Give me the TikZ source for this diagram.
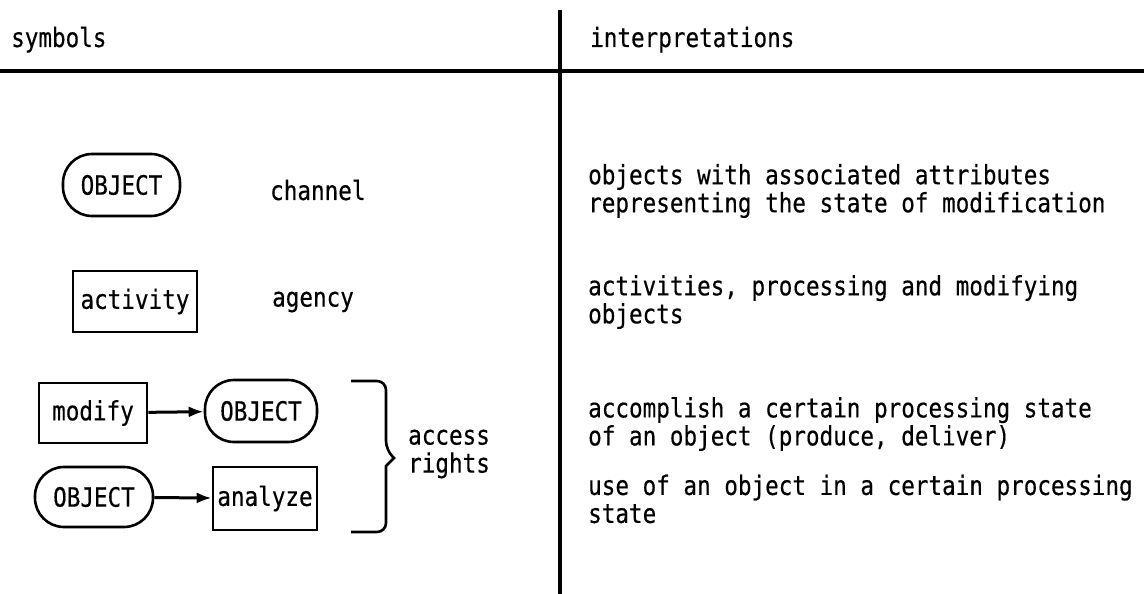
\documentclass[tikz,border=0pt]{standalone}
\usepackage{fontspec}
\setmainfont[FakeStretch=0.85,FakeBold=0.4]{DejaVu Sans Mono}
\usetikzlibrary{arrows.meta}

\tikzset{
  channel/.style={draw, line width=2.6pt, rounded corners=29pt, minimum height=62pt, inner sep=2pt},
  agency/.style={draw, line width=2.6pt, minimum height=61pt, inner sep=2pt},
  access/.style={-{Latex[length=15pt,width=11pt]}, line width=3pt},
  rule/.style={line width=3.8pt},
  note/.style={anchor=west, align=left, inner sep=0pt}
}

\begin{document}
\begin{tikzpicture}[x=1pt, y=-1pt, font=\fontsize{26.6}{28}\selectfont]
\useasboundingbox (0,0) rectangle (1144,594);

% Table rules
\draw[rule] (0,71) -- (1144,71);
\draw[rule] (560,10) -- (560,594);

% Headings
\node[note, anchor=base west] (symhead) at (11,47) {symbols};
\node[note, anchor=base west] (inthead) at (590,47) {interpretations};

% Channel
\node[channel, minimum width=117pt] (obj) at (121.5,185) {OBJECT};
\node[note] (chan) at (270,190) {channel};

% Agency
\node[agency, minimum width=124pt] (act) at (135,301.5) {activity};
\node[note] (agen) at (272,302) {agency};

% Access rights: writing and reading
\node[agency, minimum width=108pt, minimum height=60pt] (mod) at (93,413) {modify};
\node[channel, minimum width=112pt] (objw) at (261,411) {OBJECT};
\draw[access] (mod) -- (objw);

\node[channel, minimum width=118pt, minimum height=60pt] (objr) at (94,497) {OBJECT};
\node[agency, minimum width=104pt, minimum height=63pt] (ana) at (265,498.5) {analyze};
\draw[access] (objr) -- (ana);

% Brace round both pairs
\draw[line width=2.6pt] (351,381) [rounded corners=9pt] -- (386,381) -- (386,450)
  [sharp corners] -- (394,458) -- (386,466) [rounded corners=9pt] -- (386,532) -- (351,532);
\node[note] (acc) at (408,454) {access\\rights};

% Interpretations
\node[note] (objtxt) at (588,191) {objects with associated attributes\\representing the state of modification};
\node[note] (acttxt) at (588,302) {activities, processing and modifying\\objects};
\node[note] (modtxt) at (588,424) {accomplish a certain processing state\\of an object (produce, deliver)};
\node[note] (anatxt) at (588,499) {use of an object in a certain processing\\state};
\end{tikzpicture}
\end{document}
